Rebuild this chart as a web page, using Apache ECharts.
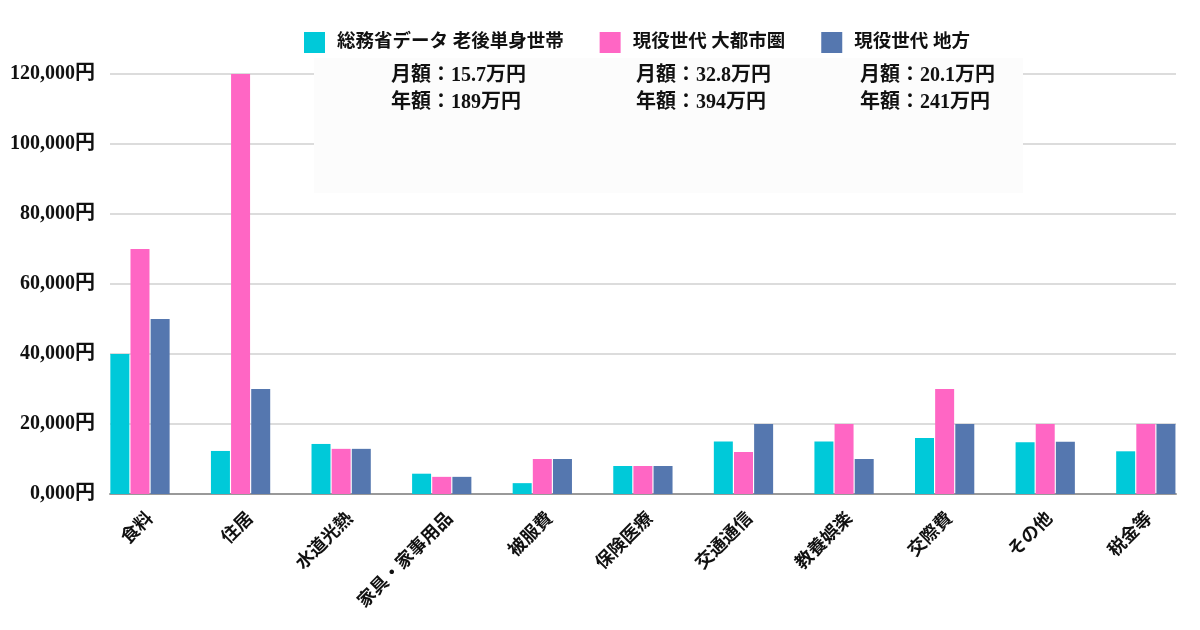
<!DOCTYPE html>
<html><head><meta charset="utf-8">
<script src="https://cdn.jsdelivr.net/npm/echarts@6/dist/echarts.min.js"></script>
<style>html,body{margin:0;padding:0;background:#fff}#c{width:1200px;height:630px}</style>
</head><body><div id="c"></div>
<script>
const categories = ['食料','住居','水道光熱','家具・家事用品','被服費','保険医療','交通通信','教養娯楽','交際費','その他','税金等'];
const seriesNames = ['総務省データ 老後単身世帯','現役世代 大都市圏','現役世代 地方'];
const elderly = [40000, 12300, 14300, 5800, 3100, 8000, 15000, 15000, 16000, 14800, 12200];
const metro = [70000, 120000, 12900, 4900, 10000, 8000, 12000, 20000, 30000, 20000, 20000];
const rural = [50000, 30000, 12900, 4900, 10000, 8000, 20000, 10000, 20000, 14900, 20000];
const yTickLabels = ['0,000円','20,000円','40,000円','60,000円','80,000円','100,000円','120,000円'];
const monthlyTotals = ['15.7','32.8','20.1'];
const annualTotals = ['189','394','241'];
const colors = ['#00C9D9','#FF66C4','#5577AF'];

const FONT = '"Liberation Serif", "DejaVu Serif", "Noto Sans CJK JP", serif';
const chart = echarts.init(document.getElementById('c'));

const noteX = [391, 636, 860];
const graphics = [{
  type: 'rect', left: 314, top: 58, z: 5,
  shape: {width: 709, height: 135},
  style: {fill: '#fcfcfc'}
}];
noteX.forEach((x, i) => {
  graphics.push({type: 'text', x: x, y: 76, z: 6,
    style: {text: '月額：' + monthlyTotals[i] + '万円', font: 'bold 20px ' + FONT, fill: '#111', verticalAlign: 'middle'}});
  graphics.push({type: 'text', x: x, y: 103, z: 6,
    style: {text: '年額：' + annualTotals[i] + '万円', font: 'bold 20px ' + FONT, fill: '#111', verticalAlign: 'middle'}});
});

const mk = (name, data, color) => ({
  name, type: 'bar', data, xAxisIndex: 0, yAxisIndex: 0,
  barWidth: 19, barGap: '6%',
  itemStyle: {color}
});

chart.setOption({
  animation: false,
  color: colors,
  textStyle: {fontFamily: FONT},
  legend: {
    left: 299, top: 27, itemWidth: 21, itemHeight: 21, itemGap: 36,
    icon: 'rect',
    textStyle: {fontSize: 18.5, fontWeight: 'bold', color: '#111', fontFamily: FONT, padding: [0,0,0,7]},
    data: seriesNames
  },
  graphic: graphics,
  grid: [
    {left: 89.7, right: 3.9, top: 74, bottom: 136},
    {left: 110, right: 24, top: 74, bottom: 136},
    {left: 100.7, width: 1106.4, top: 74, bottom: 136}
  ],
  xAxis: [
    {type: 'category', gridIndex: 0, data: categories,
     axisLine: {show: false}, axisTick: {show: false}, axisLabel: {show: false}},
    {type: 'value', gridIndex: 1, min: 0, max: 1, show: true,
     axisLine: {show: true, lineStyle: {color: '#999', width: 2}},
     axisTick: {show: false}, axisLabel: {show: false}, splitLine: {show: false}},
    {type: 'category', gridIndex: 2, data: categories,
     axisLine: {show: false}, axisTick: {show: false},
     axisLabel: {rotate: 45, margin: 22, fontSize: 18, fontWeight: 'bold', color: '#111', fontFamily: FONT, interval: 0}}
  ],
  yAxis: [
    {type: 'value', gridIndex: 0, min: 0, max: 120000, interval: 20000, show: false, splitLine: {show: false}},
    {type: 'value', gridIndex: 1, min: 0, max: 120000, interval: 20000,
     axisLine: {show: false}, axisTick: {show: false},
     splitLine: {lineStyle: {color: '#dcdcdc', width: 2}},
     axisLabel: {margin: 15, fontSize: 20, fontWeight: 'bold', color: '#111', fontFamily: FONT,
       formatter: v => yTickLabels[Math.round(v / 20000)]}},
    {type: 'value', gridIndex: 2, min: 0, max: 120000, interval: 20000, show: false, splitLine: {show: false}}
  ],
  series: [
    mk(seriesNames[0], elderly, colors[0]),
    mk(seriesNames[1], metro, colors[1]),
    mk(seriesNames[2], rural, colors[2])
  ]
});
</script></body></html>
